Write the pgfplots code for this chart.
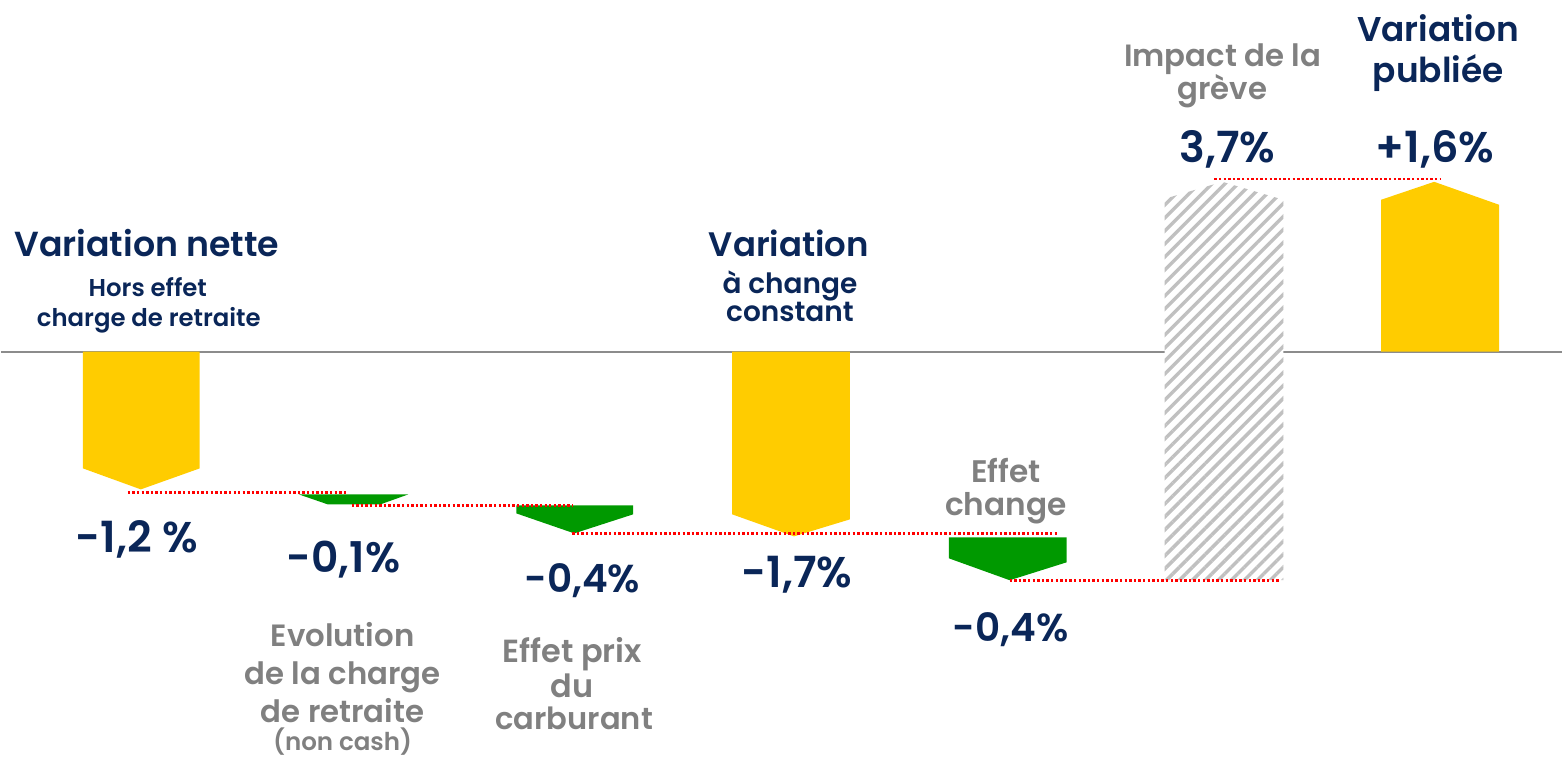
\documentclass[border=0pt]{standalone}
\usepackage{fontspec}
\setmainfont{Poppins}[BoldFont={* SemiBold}]
\usepackage{pgfplots}
\pgfplotsset{compat=1.18}
\usetikzlibrary{patterns.meta}
\definecolor{yel}{RGB}{255,204,0}
\definecolor{grn}{RGB}{0,153,0}
\definecolor{navy}{RGB}{10,38,88}
\definecolor{gtxt}{RGB}{128,128,128}
\definecolor{hatch}{RGB}{192,192,192}
\definecolor{base}{RGB}{140,140,140}
\newcommand{\fs}[1]{\fontsize{#1}{#1}\selectfont\bfseries}
\begin{document}
\begin{tikzpicture}
\begin{axis}[hide axis, scale only axis, x=0.5pt, y=57.5pt,
  xmin=0, xmax=1563, ymin=-3.548, ymax=3.061, clip=false]
\path (axis cs:0,-3.548) rectangle (axis cs:1563,3.061);
% baseline
\addplot[base, line width=1pt] coordinates {(0,0) (1563,0)};
% bars
\addplot[fill=yel, draw=none] coordinates {(82,0) (199,0) (199,-1.017) (140,-1.200) (82,-1.017)} --cycle;
\addplot[fill=grn, draw=none] coordinates {(298,-1.243) (408,-1.243) (380,-1.330) (327,-1.330)} --cycle;
\addplot[fill=grn, draw=none] coordinates {(516,-1.339) (633,-1.339) (633,-1.417) (574,-1.583) (516,-1.409)} --cycle;
\addplot[fill=yel, draw=none] coordinates {(732,0) (850,0) (850,-1.461) (794,-1.609) (732,-1.417)} --cycle;
\addplot[fill=grn, draw=none] coordinates {(949,-1.617) (1067,-1.617) (1067,-1.835) (1010,-1.991) (949,-1.800)} --cycle;
\addplot[fill=white, draw=none] coordinates {(1165,-1.991) (1284,-1.991) (1284,1.322) (1223,1.478) (1165,1.330)} --cycle;
\addplot[pattern={Lines[angle=45,distance=4.6pt,line width=1.7pt]}, pattern color=hatch, draw=none] coordinates {(1165,-1.991) (1284,-1.991) (1284,1.322) (1223,1.478) (1165,1.330)} --cycle;
\addplot[fill=yel, draw=none] coordinates {(1382,0) (1500,0) (1500,1.278) (1435,1.478) (1382,1.322)} --cycle;
% connectors
\pgfplotsset{conn/.style={red, line width=1.3pt, dash pattern=on 1.2pt off 1.1pt}}
\addplot[conn] coordinates {(127,-1.226) (347,-1.226)};
\addplot[conn] coordinates {(351,-1.339) (572,-1.339)};
\addplot[conn] coordinates {(572,-1.583) (1059,-1.583)};
\addplot[conn] coordinates {(1010,-1.991) (1280,-1.991)};
\addplot[conn] coordinates {(1215,1.504) (1442,1.504)};
% texts
\begin{scope}[every node/.style={anchor=base, inner sep=0pt}]
\node[navy, font=\fs{17.4}] at (axis cs:146,0.826) {Variation nette};
\node[navy, font=\fs{12.2}] at (axis cs:147,0.478) {Hors effet};
\node[navy, font=\fs{12.2}] at (axis cs:148,0.217) {charge de retraite};
\node[navy, font=\fs{21.5}] at (axis cs:136,-1.748) {-1,2 \%};
\node[navy, font=\fs{21.2}] at (axis cs:343,-1.922) {-0,1\%};
\node[gtxt, font=\fs{15.4}] at (axis cs:342,-2.565) {Evolution};
\node[gtxt, font=\fs{15.4}] at (axis cs:342,-2.896) {de la charge};
\node[gtxt, font=\fs{15.4}] at (axis cs:342,-3.226) {de retraite};
\node[gtxt, font=\fs{12.3}] at (axis cs:342,-3.470) {(non cash)};
\node[navy, font=\fs{19.5}] at (axis cs:582,-2.096) {-0,4\%};
\node[gtxt, font=\fs{16}] at (axis cs:572,-2.704) {Effet prix};
\node[gtxt, font=\fs{16}] at (axis cs:572,-3.009) {du};
\node[gtxt, font=\fs{15.3}] at (axis cs:574,-3.287) {carburant};
\node[navy, font=\fs{17}] at (axis cs:789,0.826) {Variation};
\node[navy, font=\fs{14}] at (axis cs:790,0.504) {à change};
\node[navy, font=\fs{14}] at (axis cs:790,0.261) {constant};
\node[navy, font=\fs{21.5}] at (axis cs:797,-2.052) {-1,7\%};
\node[gtxt, font=\fs{15.6}] at (axis cs:1006,-1.139) {Effet};
\node[gtxt, font=\fs{15.6}] at (axis cs:1006,-1.426) {change};
\node[navy, font=\fs{19.5}] at (axis cs:1011,-2.522) {-0,4\%};
\node[gtxt, font=\fs{15.4}] at (axis cs:1223,2.478) {Impact de la};
\node[gtxt, font=\fs{15.4}] at (axis cs:1223,2.191) {grève};
\node[navy, font=\fs{21.5}] at (axis cs:1228,1.643) {3,7\%};
\node[navy, font=\fs{17.2}] at (axis cs:1439,2.696) {Variation};
\node[navy, font=\fs{17.2}] at (axis cs:1439,2.339) {publiée};
\node[navy, font=\fs{21.5}] at (axis cs:1436,1.643) {+1,6\%};
\end{scope}
\end{axis}
\end{tikzpicture}
\end{document}
